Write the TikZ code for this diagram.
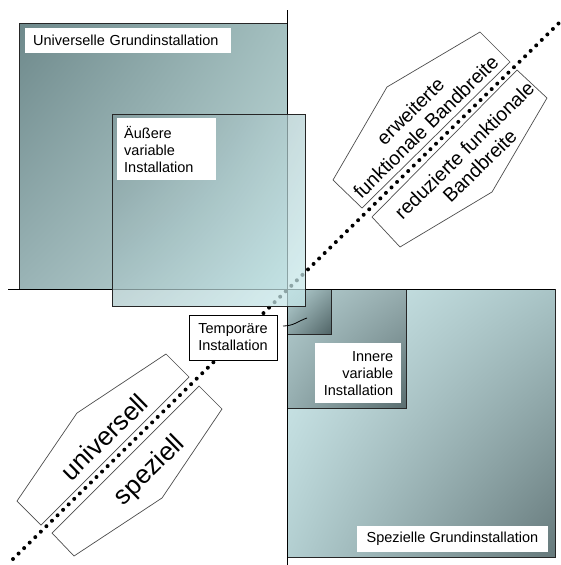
\documentclass[tikz,border=0pt]{standalone}
\usepackage{fontspec}
\setmainfont{Liberation Sans}
\usetikzlibrary{shadings}
\definecolor{ugUL}{RGB}{110,137,139}
\definecolor{ugUR}{RGB}{164,192,192}
\definecolor{ugLL}{RGB}{154,180,182}
\definecolor{ugLR}{RGB}{194,220,220}
\definecolor{sgUL}{RGB}{212,238,240}
\definecolor{sgUR}{RGB}{169,196,198}
\definecolor{sgLL}{RGB}{179,207,209}
\definecolor{sgLR}{RGB}{102,121,123}
\definecolor{ivUL}{RGB}{181,207,209}
\definecolor{ivUR}{RGB}{150,172,174}
\definecolor{ivLL}{RGB}{150,174,176}
\definecolor{ivLR}{RGB}{90,110,112}
\definecolor{tpUL}{RGB}{184,212,214}
\definecolor{tpMD}{RGB}{138,162,164}
\definecolor{tpLR}{RGB}{80,100,102}
\definecolor{avUL}{RGB}{128,152,154}
\definecolor{avUR}{RGB}{180,208,210}
\definecolor{avLL}{RGB}{172,200,202}
\definecolor{avLR}{RGB}{200,234,236}
\begin{document}
\begin{tikzpicture}[x=1pt,y=-1pt,
  axisline/.style={black,line width=0.8pt},
  boxborder/.style={draw=black!85,line width=0.9pt},
  lbl/.style={fill=white,font=\fontsize{14.5}{17}\selectfont,inner ysep=3pt},
  hexline/.style={draw=black!70,line width=0.7pt},
  rotlbl/.style={rotate=44.5,align=center,inner sep=0pt},
  dotline/.style={line width=4pt,line cap=round,dash pattern=on 0pt off 7.8pt}]
\useasboundingbox (0,0) rectangle (561,565);
% Universelle Grundinstallation
\shade[upper left=ugUL,upper right=ugUR,lower left=ugLL,lower right=ugLR]
  (19,23) rectangle (287,289);
\draw[boxborder] (19,289) -- (19,23) -- (287,23);
% Spezielle Grundinstallation
\shade[upper left=sgUL,upper right=sgUR,lower left=sgLL,lower right=sgLR]
  (287,289) rectangle (555,557);
\draw[boxborder] (287,557) -- (555,557) -- (555,289);
% Innere variable Installation
\shade[upper left=ivUL,upper right=ivUR,lower left=ivLL,lower right=ivLR]
  (287,289) rectangle (406,408);
\draw[boxborder] (287,408) -- (406,408) -- (406,289);
% Temporaere Installation (small box)
\shade[upper left=tpUL,upper right=tpMD,lower left=tpMD,lower right=tpLR]
  (287,289) rectangle (331,334);
\draw[boxborder] (287,334) -- (331,334) -- (331,289);
% axes
\draw[axisline] (287,10) -- (287,565);
\draw[axisline] (8,289) -- (555,289);
% dotted diagonal
\coordinate (dA) at (13,559);
\coordinate (dB) at (559,23);
\draw[dotline] (dA) -- (dB);
% Aeussere variable Installation (translucent)
\shade[fill opacity=0.72,upper left=avUL,upper right=avUR,lower left=avLL,lower right=avLR]
  (112,114) rectangle (305,306);
\draw[boxborder] (112,306) -- (112,114) -- (305,114) -- (305,306) -- cycle;
% labels
\node[lbl,anchor=north west,text width=190pt,inner xsep=8pt,minimum height=25pt,align=left] (uglabel) at (25,28) {Universelle Grundinstallation};
\node[lbl,anchor=north west,text width=85pt,inner xsep=7pt,minimum height=62pt,align=left] (avlabel) at (117,118) {Äußere\\variable\\Installation};
\node[lbl,draw=black,line width=0.9pt,minimum width=88pt,minimum height=45pt,align=center] (templabel) at (233,337.5) {Temporäre\\Installation};
\node[lbl,anchor=north west,text width=70pt,inner xsep=8pt,minimum height=60pt,align=right] (ivlabel) at (315,343) {Innere\\variable\\Installation};
\node[lbl,minimum width=191pt,minimum height=26pt] (sglabel) at (452.5,539) {Spezielle Grundinstallation};
% small connector of the temporary installation
\coordinate (tA) at (283,326);
\coordinate (tB) at (307,318);
\draw[black,line width=0.8pt] (tA) .. controls (294,326) and (298,321) .. (tB);
% elongated hexagons
\draw[hexline] (510,62) -- (480,32) -- (387,87) -- (333,180) -- (362,208) -- cycle;
\draw[hexline] (517,70) -- (547,98) -- (492,192) -- (400,247) -- (372,217) -- cycle;
\draw[hexline] (189,377) -- (166,354) -- (77,413) -- (17,501) -- (41,525) -- cycle;
\draw[hexline] (199,386) -- (222,409) -- (162,498) -- (74,556) -- (52,533) -- cycle;
% rotated texts
\node[rotlbl,font=\fontsize{19.5}{22}\selectfont] (erw) at (418,119) {erweiterte\\funktionale Bandbreite};
\node[rotlbl,font=\fontsize{19.5}{22}\selectfont] (red) at (472,158) {reduzierte funktionale\\Bandbreite};
\node[rotlbl,font=\fontsize{26}{30}\selectfont] (univ) at (104,437) {universell};
\node[rotlbl,font=\fontsize{26}{30}\selectfont] (spez) at (150,471) {speziell};
\end{tikzpicture}
\end{document}
